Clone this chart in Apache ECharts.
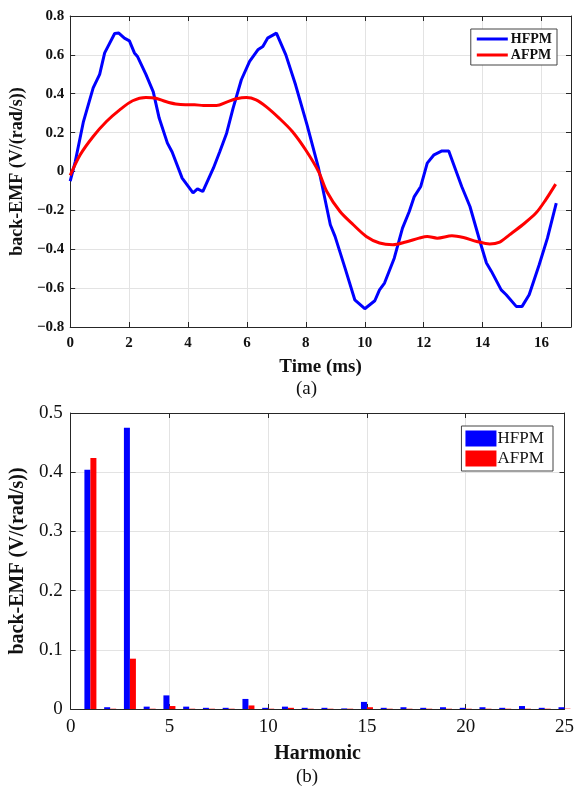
<!DOCTYPE html>
<html>
<head>
<meta charset="utf-8">
<script src="https://cdn.jsdelivr.net/npm/echarts@6/dist/echarts.min.js"></script>
<style>
html,body{margin:0;padding:0;background:#fff;}
#c{width:577px;height:788px;}
</style>
</head>
<body>
<div id="c"></div>
<script>
// ---- Data: (a) back-EMF waveforms ----
const hfpmTime = [0, 0.17, 0.45, 0.78, 1.0, 1.17, 1.51, 1.65, 1.84, 2.01, 2.18, 2.29, 2.57, 2.82, 3.02, 3.30, 3.46, 3.80, 4.17, 4.32, 4.50, 4.86, 5.08, 5.31, 5.53, 5.81, 6.09, 6.37, 6.54, 6.70, 7.00, 7.32, 7.65, 8.04, 8.43, 8.83, 8.99, 9.33, 9.66, 10.0, 10.34, 10.50, 10.67, 11.0, 11.28, 11.51, 11.68, 11.90, 12.12, 12.35, 12.62, 12.85, 13.29, 13.57, 13.91, 14.13, 14.30, 14.63, 14.80, 15.14, 15.34, 15.58, 15.92, 16.20, 16.50];
const hfpmValues = [-0.05, 0.05, 0.257, 0.43, 0.50, 0.61, 0.71, 0.712, 0.686, 0.672, 0.61, 0.59, 0.50, 0.41, 0.275, 0.146, 0.10, -0.034, -0.11, -0.089, -0.103, 0.017, 0.103, 0.197, 0.326, 0.472, 0.566, 0.626, 0.643, 0.686, 0.712, 0.60, 0.446, 0.24, 0.017, -0.274, -0.334, -0.497, -0.66, -0.706, -0.665, -0.609, -0.574, -0.446, -0.291, -0.206, -0.129, -0.077, 0.043, 0.086, 0.106, 0.106, -0.077, -0.18, -0.36, -0.471, -0.514, -0.609, -0.634, -0.694, -0.694, -0.634, -0.48, -0.343, -0.163];
const afpmTime = [0, 0.34, 0.78, 1.23, 1.68, 2.12, 2.57, 2.91, 3.24, 3.58, 3.91, 4.22, 4.52, 4.97, 5.31, 5.64, 5.98, 6.31, 6.65, 7.09, 7.54, 7.99, 8.43, 8.71, 9.16, 9.61, 10.05, 10.50, 10.95, 11.39, 11.84, 12.12, 12.46, 12.96, 13.35, 13.80, 14.24, 14.58, 14.91, 15.36, 15.81, 16.14, 16.48];
const afpmValues = [-0.02, 0.086, 0.18, 0.257, 0.317, 0.364, 0.381, 0.377, 0.36, 0.347, 0.343, 0.343, 0.34, 0.34, 0.357, 0.374, 0.381, 0.369, 0.334, 0.275, 0.206, 0.112, 0.0, -0.103, -0.206, -0.274, -0.334, -0.368, -0.377, -0.363, -0.343, -0.334, -0.343, -0.331, -0.34, -0.36, -0.373, -0.363, -0.326, -0.274, -0.214, -0.146, -0.065];

// ---- Data: (b) harmonic spectrum ----
const harmonics = [1, 2, 3, 4, 5, 6, 7, 8, 9, 10, 11, 12, 13, 14, 15, 16, 17, 18, 19, 20, 21, 22, 23, 24, 25];
const hfpmHarm = [0.404, 0.003, 0.475, 0.004, 0.023, 0.004, 0.002, 0.002, 0.017, 0.002, 0.004, 0.002, 0.002, 0.001, 0.012, 0.002, 0.003, 0.002, 0.003, 0.002, 0.003, 0.002, 0.005, 0.002, 0.003];
const afpmHarm = [0.424, 0.0005, 0.085, 0.0005, 0.005, 0.0005, 0.0005, 0.0005, 0.006, 0.0005, 0.002, 0.0005, 0.0005, 0.0005, 0.003, 0.0005, 0.0005, 0.0005, 0.0005, 0.0005, 0.0005, 0.0005, 0.0005, 0.0005, 0.0005];

const seriesNames = ['HFPM', 'AFPM'];
const yTitle = 'back-EMF (V/(rad/s))';

const SERIF = '"Liberation Serif", "Times New Roman", serif';
const AX = '#262626';
const GRIDC = '#e3e3e3';

function zip(a, b) { return a.map((x, i) => [x, b[i]]); }

const chart = echarts.init(document.getElementById('c'), null, {renderer: 'canvas'});

function frameAxis(pos, gridIndex, min, max, interval) {
  return {
    type: 'value', gridIndex: gridIndex, position: pos, min: min, max: max, interval: interval,
    axisLine: {show: true, onZero: false, lineStyle: {color: AX, width: 1}},
    axisTick: {show: true, inside: true, length: 5, lineStyle: {color: AX}},
    axisLabel: {show: false}, splitLine: {show: false}
  };
}

const option = {
  animation: false,
  backgroundColor: '#fff',
  grid: [
    {left: 63, top: 16, width: 508, height: 311, show: false},
    {left: 69, top: 413, width: 498, height: 296, show: false}
  ],
  xAxis: [
    {
      type: 'value', gridIndex: 0, min: 0, max: 17, interval: 2,
      axisLine: {show: true, onZero: false, lineStyle: {color: AX}},
      axisTick: {show: true, inside: true, length: 5, lineStyle: {color: AX}},
      axisLabel: {color: '#111', fontFamily: SERIF, fontWeight: 'bold', fontSize: 15, margin: 9,
        showMaxLabel: false},
      splitLine: {show: true, lineStyle: {color: GRIDC}},
      name: 'Time (ms)', nameLocation: 'middle', nameGap: 31,
      nameTextStyle: {color: '#111', fontFamily: SERIF, fontWeight: 'bold', fontSize: 19}
    },
    frameAxis('top', 0, 0, 17, 2),
    {
      type: 'value', gridIndex: 1, min: 0, max: 25, interval: 5,
      axisLine: {show: true, onZero: false, lineStyle: {color: AX}},
      axisTick: {show: true, inside: true, length: 5, lineStyle: {color: AX}},
      axisLabel: {color: '#111', fontFamily: SERIF, fontSize: 19, margin: 9},
      splitLine: {show: true, lineStyle: {color: GRIDC}},
      name: 'Harmonic', nameLocation: 'middle', nameGap: 35,
      nameTextStyle: {color: '#111', fontFamily: SERIF, fontWeight: 'bold', fontSize: 20}
    },
    frameAxis('top', 1, 0, 25, 5)
  ],
  yAxis: [
    {
      type: 'value', gridIndex: 0, min: -0.8, max: 0.8, interval: 0.2,
      axisLine: {show: true, onZero: false, lineStyle: {color: AX}},
      axisTick: {show: true, inside: true, length: 5, lineStyle: {color: AX}},
      axisLabel: {color: '#111', fontFamily: SERIF, fontWeight: 'bold', fontSize: 15, margin: 6,
        formatter: v => (Math.abs(v) < 1e-9 ? '0' : (+v.toFixed(1)).toString().replace('-', '\u2212'))},
      splitLine: {show: true, lineStyle: {color: GRIDC}},
      name: yTitle, nameLocation: 'middle', nameGap: 38,
      nameTextStyle: {color: '#111', fontFamily: SERIF, fontWeight: 'bold', fontSize: 18}
    },
    frameAxis('right', 0, -0.8, 0.8, 0.2),
    {
      type: 'value', gridIndex: 1, min: 0, max: 0.5, interval: 0.1,
      axisLine: {show: true, onZero: false, lineStyle: {color: AX}},
      axisTick: {show: true, inside: true, length: 5, lineStyle: {color: AX}},
      axisLabel: {color: '#111', fontFamily: SERIF, fontSize: 19, margin: 8,
        formatter: v => (v === 0 ? '0' : (+v.toFixed(1)).toString())},
      splitLine: {show: true, lineStyle: {color: GRIDC}},
      name: yTitle, nameLocation: 'middle', nameGap: 33,
      nameTextStyle: {color: '#111', fontFamily: SERIF, fontWeight: 'bold', fontSize: 20}
    },
    frameAxis('right', 1, 0, 0.5, 0.1)
  ],
  legend: [
    {
      data: seriesNames.map(n => ({name: n, icon: 'rect', itemStyle: {}})),
      orient: 'vertical', right: 20, top: 29,
      padding: [3, 5, 3, 6], itemGap: 2, itemWidth: 31, itemHeight: 3,
      borderColor: '#444', borderWidth: 1, backgroundColor: '#fff',
      textStyle: {color: '#111', fontFamily: SERIF, fontWeight: 'bold', fontSize: 14, padding: [0, 0, 0, -2]},
      selectedMode: false
    },
    {
      data: ['HFPM ', 'AFPM '],
      orient: 'vertical', right: 24, top: 426,
      padding: [4, 5, 4, 4], itemGap: 3, itemWidth: 31, itemHeight: 16,
      borderColor: '#444', borderWidth: 1, backgroundColor: '#fff',
      icon: 'rect',
      textStyle: {color: '#111', fontFamily: SERIF, fontSize: 17, padding: [0, 0, 0, -4]},
      selectedMode: false
    }
  ],
  series: [
    {
      name: 'HFPM', type: 'line', xAxisIndex: 0, yAxisIndex: 0,
      data: zip(hfpmTime, hfpmValues), showSymbol: false, symbol: 'none',
      lineStyle: {color: '#0000FF', width: 3}, itemStyle: {color: '#0000FF'}, z: 3
    },
    {
      name: 'AFPM', type: 'line', xAxisIndex: 0, yAxisIndex: 0,
      data: zip(afpmTime, afpmValues), showSymbol: false, symbol: 'none', smooth: 0.3,
      lineStyle: {color: '#FF0000', width: 3}, itemStyle: {color: '#FF0000'}, z: 3
    },
    {
      name: 'HFPM ', type: 'bar', xAxisIndex: 2, yAxisIndex: 2,
      data: zip(harmonics, hfpmHarm), barWidth: 6, barGap: '0%',
      itemStyle: {color: '#0000FF'}
    },
    {
      name: 'AFPM ', type: 'bar', xAxisIndex: 2, yAxisIndex: 2,
      data: zip(harmonics, afpmHarm), barWidth: 6, barGap: '0%',
      itemStyle: {color: '#FF0000'}
    }
  ],
  graphic: [
    {type: 'text', left: 296, top: 380, style: {text: '(a)', font: '19px ' + SERIF, fill: '#111'}},
    {type: 'text', left: 296, top: 768, style: {text: '(b)', font: '19px ' + SERIF, fill: '#111'}}
  ]
};

chart.setOption(option);
</script>
</body>
</html>
